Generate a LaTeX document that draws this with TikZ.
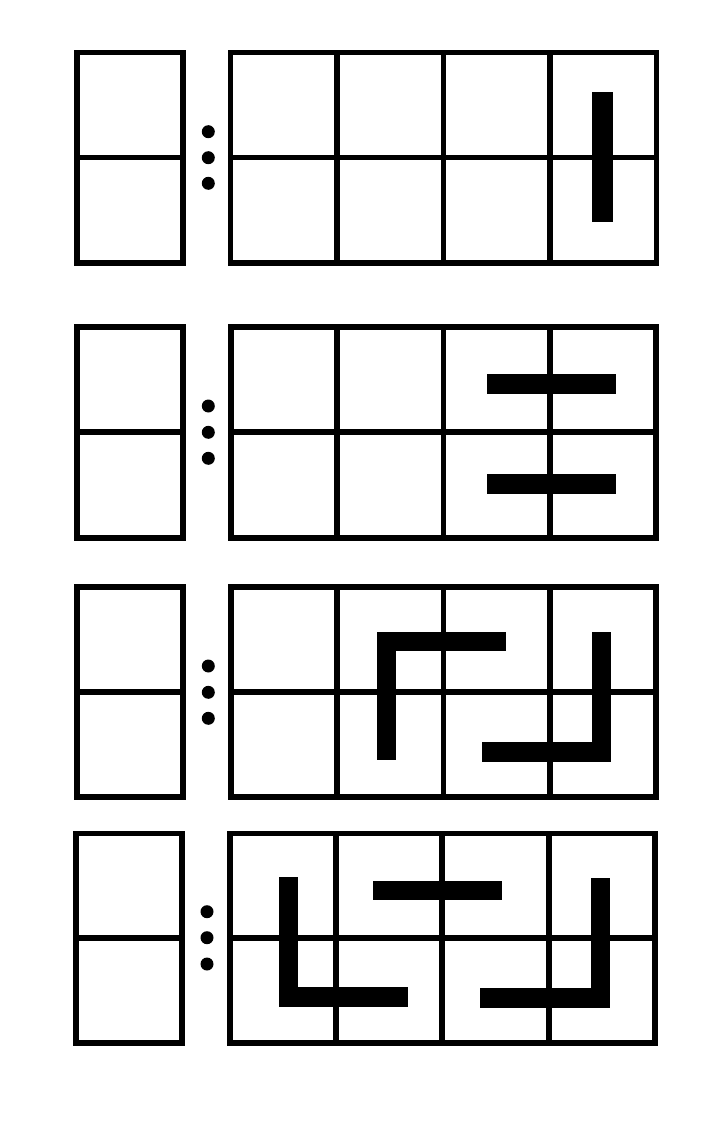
\documentclass[tikz,border=0pt]{standalone}
\begin{document}
\begin{tikzpicture}[x=1pt,y=-1pt,
  gridline/.style={line width=5.7pt, line join=miter},
  bar/.style={fill=black},
  dotmark/.style={fill=black}]
\useasboundingbox[fill=white] (0,0) rectangle (720,1128);
% rows: top/mid/bottom / left box xl,xr / right box verticals / dots x, y1,y2,y3
\foreach \t/\m/\b/\la/\lb/\ra/\rb/\rc/\rd/\re/\dx/\da/\dbb/\dc in {
  52.5/157.5/263/77/183/230.5/337/443.5/550/656.5/208.3/131.7/157.7/183.3,
  327.2/432.2/537.8/77.2/182.8/231.2/337.2/443.5/550.2/656.2/208.3/406/432.3/458.3,
  587.2/692/797.2/77.2/182.8/231.2/337.2/443.5/550.2/656.2/208.3/666/692.3/718.3,
  833.5/938/1043.3/76.2/181.8/229.7/336.2/442.3/548.7/655.3/207/911.7/937.7/964}{
  \draw[gridline] (\la,\t) rectangle (\lb,\b);
  \draw[gridline] (\la,\m) -- (\lb,\m);
  \draw[gridline] (\ra,\t) rectangle (\re,\b);
  \draw[gridline] (\ra,\m) -- (\re,\m);
  \foreach \v in {\rb,\rc,\rd} \draw[gridline] (\v,\t) -- (\v,\b);
  \foreach \dy in {\da,\dbb,\dc} \fill[dotmark] (\dx,\dy) circle[radius=6.5pt];
}
% row 1
\fill[bar] (592.3,91.7) rectangle (612.7,221.7);
% row 2
\fill[bar] (486.7,374.3) rectangle (616,394.3);
\fill[bar] (486.7,474.3) rectangle (616,494.3);
% row 3
\fill[bar] (376.7,631.7) rectangle (396,760.3);
\fill[bar] (376.7,631.7) rectangle (506,650.7);
\fill[bar] (591.7,632.3) rectangle (611,761.7);
\fill[bar] (481.7,742.3) rectangle (611,761.7);
% row 4
\fill[bar] (278.7,877) rectangle (298.3,1007);
\fill[bar] (278.7,987.3) rectangle (408.3,1007);
\fill[bar] (372.7,880.7) rectangle (502.3,900.3);
\fill[bar] (590.7,878.3) rectangle (610,1007.7);
\fill[bar] (480.3,988.3) rectangle (610,1007.7);
\end{tikzpicture}
\end{document}
